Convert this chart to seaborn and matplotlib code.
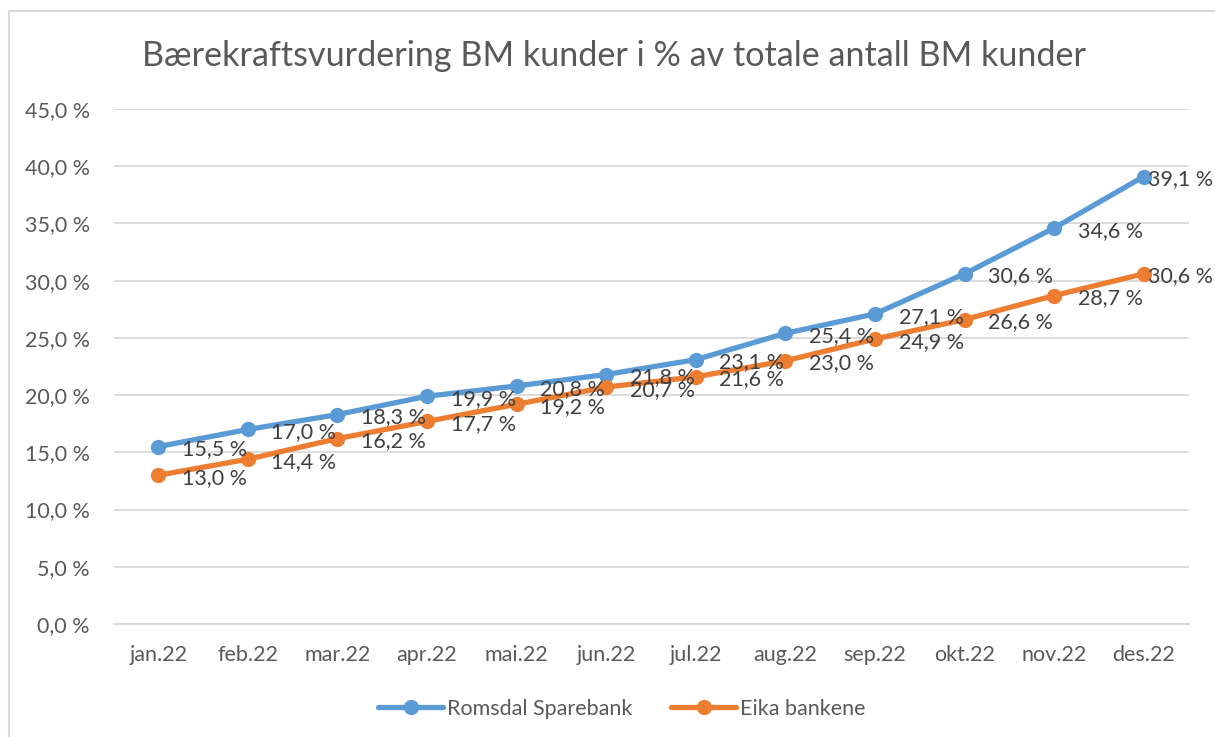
import matplotlib
matplotlib.use("Agg")
import matplotlib.pyplot as plt
import seaborn as sns
import pandas as pd
from matplotlib.patches import Rectangle

# Data
months = ["jan.22", "feb.22", "mar.22", "apr.22", "mai.22", "jun.22",
          "jul.22", "aug.22", "sep.22", "okt.22", "nov.22", "des.22"]
romsdal = [15.5, 17.0, 18.3, 19.9, 20.8, 21.8, 23.1, 25.4, 27.1, 30.6, 34.6, 39.1]
eika = [13.0, 14.4, 16.2, 17.7, 19.2, 20.7, 21.6, 23.0, 24.9, 26.6, 28.7, 30.6]
series_names = ["Romsdal Sparebank", "Eika bankene"]
y_ticks = [0, 5, 10, 15, 20, 25, 30, 35, 40, 45]

df = pd.DataFrame({
    "month": months * 2,
    "pos": list(range(len(months))) * 2,
    "value": romsdal + eika,
    "series": [series_names[0]] * len(months) + [series_names[1]] * len(months),
})

sns.set_theme(style="white")
plt.rcParams["font.family"] = ["Lato", "DejaVu Sans"]

text_col = "#595959"
palette = {series_names[0]: "#5B9BD5", series_names[1]: "#ED7D31"}

fig = plt.figure(figsize=(12.15, 7.37), dpi=100)
ax = fig.add_axes([113.5 / 1215, 1 - 624 / 737, (1188.5 - 113.5) / 1215, (624 - 109) / 737])

# chart border like excel
fig.patches.append(Rectangle((9 / 1215, -0.01), 1.02, 1 - 11 / 737 + 0.01,
                             transform=fig.transFigure, fill=False,
                             edgecolor="#D9D9D9", linewidth=1.5))

sns.lineplot(data=df, x="pos", y="value", hue="series", palette=palette,
             marker="o", markersize=11, markeredgewidth=0, linewidth=3.8,
             ax=ax, legend=True)

# data labels to the right of each point (last one squeezed in like excel does)
last = len(months) - 1
for name, vals in zip(series_names, [romsdal, eika]):
    for i, v in enumerate(vals):
        dx = 3 if i == last else 17
        ax.annotate(f"{v:.1f} %".replace(".", ","), (i, v), xytext=(dx, -2),
                    textcoords="offset points", ha="left", va="center",
                    fontsize=15.5, color="#404040", annotation_clip=False)

ax.set_xlim(-0.5, len(months) - 0.5)
ax.set_ylim(0, 45)
ax.set_yticks(y_ticks)
ax.set_yticklabels([f"{t:.1f} %".replace(".", ",") for t in y_ticks],
                   fontsize=15.5, color=text_col)
ax.set_xticks(range(len(months)))
ax.set_xticklabels(months, fontsize=15.5, color=text_col)
ax.tick_params(axis="x", length=0, pad=15)
ax.tick_params(axis="y", length=0, pad=17)

# minor ticks between categories on the x axis
ax.set_xticks([i - 0.5 for i in range(len(months) + 1)], minor=True)
ax.tick_params(axis="x", which="minor", length=7, color="#D9D9D9", width=1.3,
               direction="out")

ax.grid(axis="y", color="#D9D9D9", linewidth=1.3)
ax.set_axisbelow(True)
for s in ["top", "right", "left"]:
    ax.spines[s].set_visible(False)
ax.spines["bottom"].set_color("#D9D9D9")
ax.spines["bottom"].set_linewidth(1.3)
ax.set_xlabel("")
ax.set_ylabel("")

fig.text(0.505, 1 - 56 / 737, "Bærekraftsvurdering BM kunder i % av totale antall BM kunder",
         ha="center", va="center", fontsize=24.6, color=text_col)

leg = ax.legend(loc="center", bbox_to_anchor=(0.473, -0.165), ncol=2, frameon=False,
                fontsize=15.5, handlelength=3.0, handletextpad=0.2, columnspacing=1.8,
                labelcolor=text_col)

fig.savefig("out.png", dpi=100)
